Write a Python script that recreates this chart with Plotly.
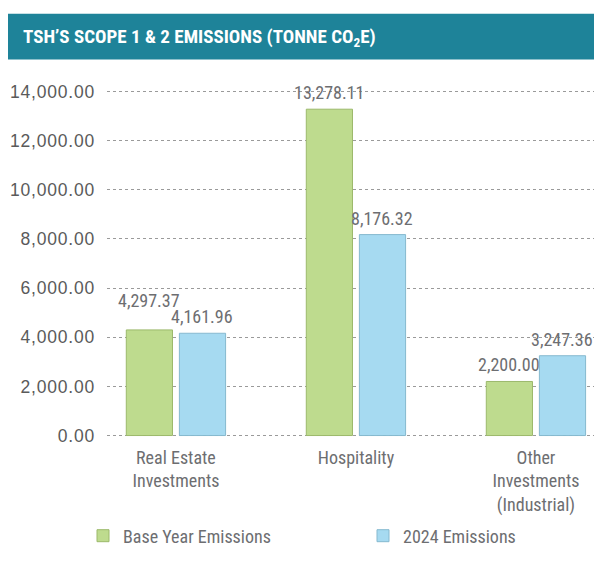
import plotly.graph_objects as go

categories = ["Real Estate Investments", "Hospitality", "Other Investments (Industrial)"]
category_lines = [["Real Estate", "Investments"], ["Hospitality"], ["Other", "Investments", "(Industrial)"]]
base_year = [4297.37, 13278.11, 2200.00]
emissions_2024 = [4161.96, 8176.32, 3247.36]
series_names = ["Base Year Emissions", "2024 Emissions"]
y_ticks = [0, 2000, 4000, 6000, 8000, 10000, 12000, 14000]

# The page body has an 8px margin, so the figure is 8px smaller than the window.
W, H = 594, 555
Y_PAD = 100                      # small range padding so the 0 and 14,000 gridlines are drawn
pad_px = Y_PAD * 345 / 14000
L, R = 99, 0
T, B = 83 - pad_px, 127 - pad_px
pw, ph = W - L - R, H - T - B


def px_x(p):
    return (p - L) / pw


def px_y(p):
    return (H - B - p) / ph


def cond(s):
    return f"<span style='font-stretch:condensed'>{s}</span>"


COND = "Roboto, Open Sans, sans-serif"
gray = "#6d6e71"
colors = ["#bedb8e", "#a6daf1"]
edges = ["#9cb96b", "#86b9cf"]
series = [base_year, emissions_2024]
bar_shift = [-26.5, 26.5]   # pixel offset of each grouped bar from its category centre

fig = go.Figure()
for k, (name, vals) in enumerate(zip(series_names, series)):
    fig.add_trace(go.Bar(
        x=categories, y=vals, name=cond(name), legend="legend" if k == 0 else "legend2",
        marker=dict(color=colors[k], line=dict(color=edges[k], width=1)),
        hoverinfo="x+y",
    ))

# value labels above bars; when the two bars of a group are nearly equal,
# the taller label is lifted so the two labels do not collide
for i, cat in enumerate(categories):
    a, b = base_year[i], emissions_2024[i]
    close = abs(a - b) < 600
    for k, v in enumerate((a, b)):
        lift = 4
        if close and v == max(a, b):
            lift = 17
        fig.add_annotation(
            x=cat, y=v, xref="x", yref="y", xshift=bar_shift[k], yshift=lift,
            xanchor="center", yanchor="bottom", showarrow=False,
            text=cond(f"{v:,.2f}"),
            font=dict(family=COND, size=18, color=gray),
        )

legend_common = dict(xref="container", yref="container", xanchor="left", yanchor="middle",
                     font=dict(family=COND, size=18, color=gray), bgcolor="rgba(0,0,0,0)",
                     borderwidth=0)
fig.update_layout(
    width=W, height=H,
    margin=dict(l=L, r=R, t=T, b=B, pad=0, autoexpand=False),
    plot_bgcolor="white", paper_bgcolor="white",
    barmode="group", bargap=0.41, bargroupgap=0.13,
    showlegend=True,
    legend=dict(x=75 / W, y=1 - 528 / H, **legend_common),
    legend2=dict(x=355 / W, y=1 - 528 / H, **legend_common),
    font=dict(family="Liberation Sans, Arial, sans-serif", color=gray),
)
fig.update_yaxes(
    range=[-Y_PAD, 14000 + Y_PAD], tickvals=y_ticks,
    ticktext=[f"<span style='letter-spacing:0.8px'>{v:,.2f}</span>" for v in y_ticks],
    showgrid=True, gridcolor="#9a9a9a", griddash="dot", gridwidth=1,
    zeroline=False, showline=False, automargin=False,
    tickfont=dict(family="Liberation Sans, Arial, sans-serif", size=17.5, color="#5a5a5a"),
    ticklabelstandoff=11,
)
fig.update_xaxes(
    range=[-0.383, 2.367], showgrid=False, showline=False, zeroline=False, automargin=False,
    tickvals=categories,
    ticktext=["<br>".join(cond(s) for s in lines) for lines in category_lines],
    tickfont=dict(family=COND, size=18, color=gray),
    ticklabelstandoff=7,
)

# title bar
fig.add_shape(type="rect", xref="paper", yref="paper",
              x0=px_x(0), x1=px_x(W), y0=px_y(51), y1=px_y(5),
              fillcolor="#1e8399", line=dict(width=0), layer="below")
fig.add_annotation(xref="paper", yref="paper", x=px_x(13), y=px_y(29),
                   xanchor="left", yanchor="middle", showarrow=False,
                   text=cond("<b>TSH’S SCOPE 1 &amp; 2 EMISSIONS (TONNE CO<sub>2</sub>E)</b>"),
                   font=dict(family=COND, size=19, color="white"))

fig.write_html("out.html")
